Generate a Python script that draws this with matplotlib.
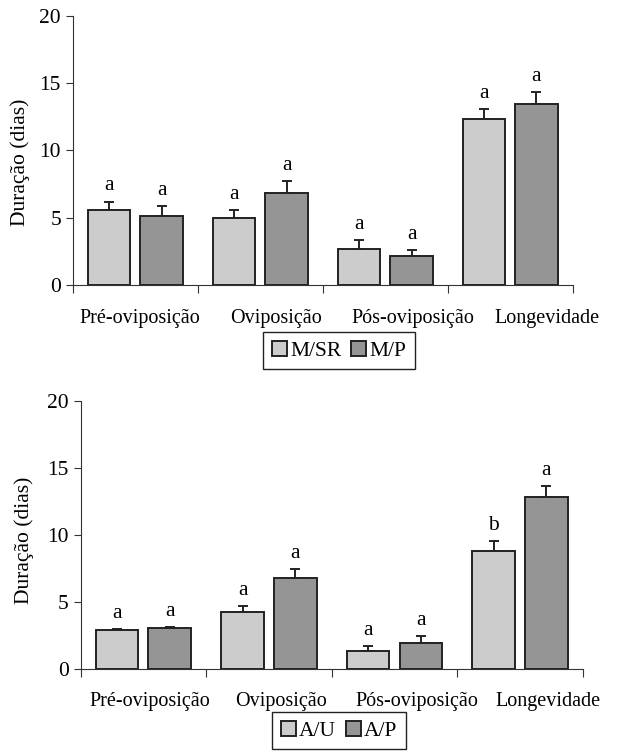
"""Duração das fases reprodutivas - dois tratamentos por painel."""
import numpy as np
import matplotlib
matplotlib.use("Agg")
import matplotlib.pyplot as plt

plt.rcParams["font.family"] = ["Liberation Serif", "DejaVu Serif"]
plt.rcParams["font.size"] = 15.5

categories = ["Pré-oviposição", "Oviposição", "Pós-oviposição", "Longevidade"]

# painel superior
top_names = ["M/SR", "M/P"]
top_light = [5.6, 4.95, 2.65, 12.3]
top_light_err = [0.6, 0.6, 0.7, 0.8]
top_dark = [5.15, 6.8, 2.15, 13.45]
top_dark_err = [0.7, 0.9, 0.45, 0.9]
top_light_lab = ["a", "a", "a", "a"]
top_dark_lab = ["a", "a", "a", "a"]

# painel inferior
bot_names = ["A/U", "A/P"]
bot_light = [2.85, 4.2, 1.3, 8.8]
bot_light_err = [0.12, 0.45, 0.38, 0.7]
bot_dark = [3.0, 6.8, 1.9, 12.85]
bot_dark_err = [0.1, 0.6, 0.5, 0.8]
bot_light_lab = ["a", "a", "a", "b"]
bot_dark_lab = ["a", "a", "a", "a"]

LIGHT = "#cccccc"
DARK = "#959595"
W = 0.34
OFF = 0.21

fig = plt.figure(figsize=(6.28, 7.52), dpi=100)
ax1 = fig.add_axes([0.116, 0.621, 0.796, 0.358])
ax2 = fig.add_axes([0.1285, 0.111, 0.7995, 0.356])


def panel(ax, light, light_err, dark, dark_err, llab, dlab, names, leg_y,
          label_shift, ylab_x, ylab_y):
    x = np.arange(len(categories))
    for xs, vals, errs, col, labs, name in [
        (x - OFF, light, light_err, LIGHT, llab, names[0]),
        (x + OFF, dark, dark_err, DARK, dlab, names[1]),
    ]:
        ax.bar(xs, vals, W, color=col, edgecolor="#222222", linewidth=1.4,
               label=name, zorder=2)
        ax.errorbar(xs, vals, yerr=[np.zeros(len(vals)), errs], fmt="none",
                    ecolor="#222222", elinewidth=1.4, capsize=3.3, capthick=1.4,
                    zorder=1)
        for xi, v, e, t in zip(xs, vals, errs, labs):
            ax.annotate(t, (xi, v + e), xytext=(0, 8), textcoords="offset points",
                        ha="center", va="baseline")
    ax.set_xlim(-0.5, len(categories) - 0.5)
    ax.set_ylim(0, 20)
    ax.set_yticks([0, 5, 10, 15, 20])
    ax.set_xticks(np.arange(len(categories) + 1) - 0.5)
    ax.set_xticklabels([])
    # category names; in the original they sit a little right of the groups
    for xi, name, dx in zip(x, categories, label_shift):
        ax.annotate(name, (xi, 0), xycoords=("data", "axes fraction"),
                    xytext=(dx * 0.72, -17), textcoords="offset points",
                    ha="center", va="top", fontsize=14.5)
    ax.tick_params(axis="x", length=6, width=0.8, color="#333333")
    ax.tick_params(axis="y", length=5, width=0.8, color="#333333")
    for s in ["top", "right"]:
        ax.spines[s].set_visible(False)
    for s in ["left", "bottom"]:
        ax.spines[s].set_linewidth(0.8)
        ax.spines[s].set_color("#333333")
    ax.set_ylabel("Duração (dias)")
    ax.yaxis.set_label_coords(ylab_x, ylab_y)
    leg = ax.legend(loc="upper center", bbox_to_anchor=(0.54, leg_y),
                    bbox_transform=fig.transFigure, ncol=2, frameon=True,
                    fancybox=False, edgecolor="#222222", framealpha=1,
                    handlelength=0.7, handleheight=0.7, handletextpad=0.15,
                    columnspacing=0.45, borderpad=0.4, borderaxespad=0)
    leg.get_frame().set_linewidth(1.0)


panel(ax1, top_light, top_light_err, top_dark, top_dark_err,
      top_light_lab, top_dark_lab, top_names, 1 - 332 / 752,
      [4, 16, 28, 37], -0.086, 0.455)
panel(ax2, bot_light, bot_light_err, bot_dark, bot_dark_err,
      bot_light_lab, bot_dark_lab, bot_names, 1 - 712 / 752,
      [6, 12, 22, 28], -0.094, 0.48)

plt.savefig("out.png", dpi=100)
plt.close()
